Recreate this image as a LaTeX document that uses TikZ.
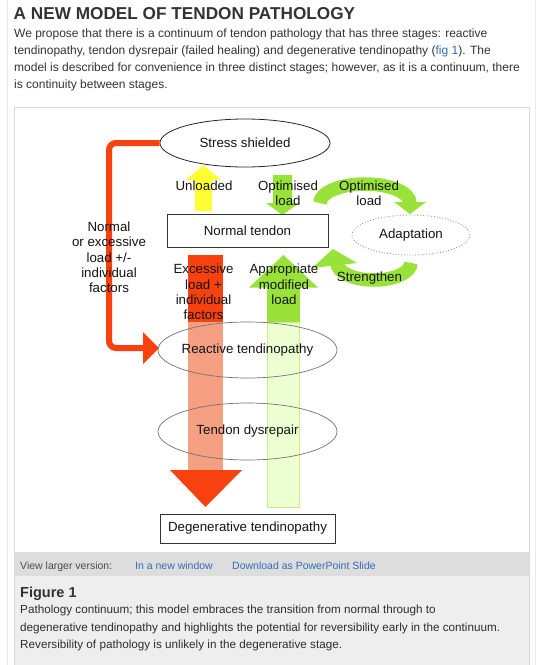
\documentclass[tikz,border=0pt]{standalone}
\usepackage{fontspec}
\setmainfont{Liberation Sans}
\usetikzlibrary{shapes.geometric}
\definecolor{tred}{HTML}{F7420F}
\definecolor{tsalmon}{HTML}{F5A083}
\definecolor{tgreen}{HTML}{98E23A}
\definecolor{tpale}{HTML}{EEFFD2}
\definecolor{tpaleline}{HTML}{C8EE8C}
\definecolor{tyellow}{HTML}{FFFF33}
\definecolor{ttext}{HTML}{333333}
\definecolor{tlink}{HTML}{2F6DB5}
\definecolor{barg}{HTML}{DDDDDD}
\definecolor{capg}{HTML}{EEEEEE}
\definecolor{frameg}{HTML}{DADADA}
\begin{document}
\begin{tikzpicture}[x=1pt,y=-1pt,
  lbl/.style={font=\fontsize{13.3}{15.3}\selectfont, align=center, text=black!92, inner sep=0pt},
  para/.style={font=\fontsize{12}{14}\selectfont, text=ttext, inner sep=0pt, anchor=base west},
  capt/.style={font=\fontsize{11.7}{14}\selectfont, text=ttext!90!black, inner sep=0pt, anchor=base west},
  barlbl/.style={font=\fontsize{10.5}{12}\selectfont, inner sep=0pt, anchor=base west},
  stagebox/.style={draw=black!80, line width=0.8pt, inner sep=0pt},
  stageell/.style={ellipse, draw=black!55, line width=0.7pt, inner sep=0pt},
  greenarc/.style={draw=tgreen, line width=13.5pt}
]
\useasboundingbox (0,0) rectangle (543,665);
\fill[white] (0,0) rectangle (543,665);
% page frame
\draw[black!10, line width=0.8pt] (7,0) -- (7,665);
\draw[black!8, line width=0.8pt] (535,0) -- (535,665);
\draw[frameg, line width=1pt, fill=white] (14,107) rectangle (529,666);
\fill[barg] (14.5,552) rectangle (528.5,576);
\fill[capg] (14.5,576) rectangle (528.5,665);

% heading and paragraph
\node[anchor=base west, inner sep=0pt, text=ttext, font=\fontsize{17.2}{20}\selectfont\bfseries] (title) at (13.5,19.5) {A NEW MODEL OF TENDON PATHOLOGY};
\node[para] (p1) at (14,37) {We propose that there is a continuum of tendon pathology that has three stages: reactive};
\node[para] (p2) at (14,54) {tendinopathy, tendon dysrepair (failed healing) and degenerative tendinopathy ({\color{tlink}fig 1}). The};
\node[para] (p3) at (14,71) {model is described for convenience in three distinct stages; however, as it is a continuum, there};
\node[para] (p4) at (14,88) {is continuity between stages.};

% red L-shaped connector (behind)
\node[stageell, draw=black!85, line width=0.8pt, minimum width=170pt, minimum height=48pt, fill=white] (ss) at (245,143) {};
\coordinate (lc1) at (109,143);
\coordinate (lc2) at (109,348);
\coordinate (lc3) at (144,348);
\draw[tred, line width=6pt, rounded corners=7pt] (ss.west) -- (lc1) -- (lc2) -- (lc3);
\fill[tred] (143,332) -- (159,348) -- (143,364) -- cycle;

% yellow up arrow (Unloaded)
\fill[tyellow] (195,211) -- (212,211) -- (212,180) -- (221,180) -- (203.5,165) -- (186,180) -- (195,180) -- cycle;
% green down arrow (Optimised load)
\fill[tgreen] (273,175) -- (292,175) -- (292,203) -- (299,203) -- (282.5,215) -- (266,203) -- (273,203) -- cycle;

% curved green arrows
\draw[greenarc] (320,203) arc[start angle=180, end angle=360, x radius=45, y radius=19];
\fill[tgreen] (394,202) -- (426,202) -- (410,214) -- cycle;
\draw[greenarc] (411,263) arc[start angle=0, end angle=180, x radius=37, y radius=17];
\fill[tgreen] (312,268) -- (357,263) -- (333,249) -- cycle;

% big red down arrow
\fill[tred] (188,255) rectangle (223,322.5);
\fill[tsalmon] (188,322) rectangle (223,470.5);
\fill[tred] (170,470) -- (242,470) -- (205.5,507) -- cycle;
% big green up arrow
\fill[tgreen] (267,287) rectangle (300,322.5);
\fill[tgreen] (249,287.5) -- (318,287.5) -- (283.5,255) -- cycle;
\draw[tpaleline, fill=tpale, line width=0.8pt] (267.4,322) rectangle (299.6,507);

% stage nodes
\node[lbl] at (ss.center) {Stress shielded};
\node[stagebox, minimum width=161pt, minimum height=33pt] (nt) at (247.5,230.5) {};
\node[lbl] at (nt.center) {Normal tendon};
\node[stageell, minimum width=179pt, minimum height=56pt] (rt) at (247.5,350) {};
\node[lbl] at (rt.center) {Reactive tendinopathy};
\node[stageell, minimum width=179pt, minimum height=57pt] (td) at (247.5,431.5) {};
\node[lbl] at (td.center) {Tendon dysrepair};
\node[stagebox, minimum width=175pt, minimum height=29pt] (dt) at (247.5,528.5) {};
\node[lbl] at (dt.center) {Degenerative tendinopathy};
\node[ellipse, draw=black!50, dotted, line width=0.8pt, minimum width=118pt, minimum height=40pt, inner sep=0pt] (ad) at (411,235) {};
\node[lbl] at (ad.center) {Adaptation};

% labels
\node[lbl] (l1) at (109,257.5) {Normal\\or excessive\\load +/-\\individual\\factors};
\node[lbl] (l2) at (204,186) {Unloaded};
\node[lbl] (l3) at (288,193.5) {Optimised\\load};
\node[lbl] (l4) at (369,193.5) {Optimised\\load};
\node[lbl] (l5) at (369.5,278) {Strengthen};
\node[lbl] (l6) at (203.5,292) {Excessive\\load +\\individual\\factors};
\node[lbl] (l7) at (284,284.5) {Appropriate\\modified\\load};

% bottom bar and caption
\node[barlbl, text=black!70] (v1) at (20,569) {View larger version:};
\node[barlbl, text=tlink] (v2) at (135,569) {In a new window};
\node[barlbl, text=tlink] (v3) at (232,569) {Download as PowerPoint Slide};
\node[anchor=base west, inner sep=0pt, text=ttext, font=\fontsize{14.5}{16}\selectfont\bfseries] (fig) at (20,597) {Figure 1};
\node[capt] (c1) at (20,613) {Pathology continuum; this model embraces the transition from normal through to};
\node[capt] (c2) at (20,631) {degenerative tendinopathy and highlights the potential for reversibility early in the continuum.};
\node[capt] (c3) at (20,648) {Reversibility of pathology is unlikely in the degenerative stage.};
\end{tikzpicture}
\end{document}
